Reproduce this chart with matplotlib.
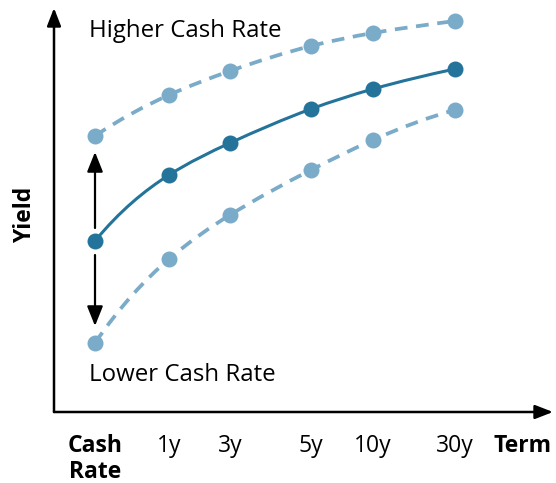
import numpy as np
import matplotlib
matplotlib.use("Agg")
from matplotlib import pyplot as plt
from matplotlib.path import Path
from matplotlib.patches import PathPatch, FancyArrowPatch

plt.rcParams['font.family'] = ['Open Sans', 'DejaVu Sans']

terms = ["Cash\nRate", "1y", "3y", "5y", "10y", "30y"]
term_x = [0.41, 1.15, 1.76, 2.57, 3.19, 4.01]
yield_now = [1.71, 2.37, 2.69, 3.03, 3.23, 3.43]
yield_higher = [2.76, 3.17, 3.41, 3.66, 3.79, 3.91]
yield_lower = [0.69, 1.53, 1.97, 2.42, 2.72, 3.02]

dark = "#23739b"
light = "#7aabc8"


def spline_slopes(x, y):
    # not-a-knot cubic spline, solved for the slope at each knot
    x = np.asarray(x, float)
    y = np.asarray(y, float)
    n = len(x)
    h = np.diff(x)
    s = np.diff(y) / h
    A = np.zeros((n, n))
    b = np.zeros(n)
    d = x[2] - x[0]
    A[0, 0], A[0, 1] = h[1], d
    b[0] = ((h[0] + 2 * d) * h[1] * s[0] + h[0] ** 2 * s[1]) / d
    for i in range(1, n - 1):
        A[i, i - 1] = h[i]
        A[i, i] = 2 * (h[i - 1] + h[i])
        A[i, i + 1] = h[i - 1]
        b[i] = 3 * (h[i] * s[i - 1] + h[i - 1] * s[i])
    d = x[-1] - x[-3]
    A[-1, -1], A[-1, -2] = h[-2], d
    b[-1] = (h[-1] ** 2 * s[-2] + (2 * d + h[-1]) * h[-2] * s[-1]) / d
    return np.linalg.solve(A, b)


def smooth_path(xs, ys):
    # each spline piece written as one cubic bezier segment
    m = spline_slopes(xs, ys)
    verts = [(xs[0], ys[0])]
    codes = [Path.MOVETO]
    for i in range(len(xs) - 1):
        h = xs[i + 1] - xs[i]
        verts += [(xs[i] + h / 3, ys[i] + h * m[i] / 3),
                  (xs[i + 1] - h / 3, ys[i + 1] - h * m[i + 1] / 3),
                  (xs[i + 1], ys[i + 1])]
        codes += [Path.CURVE4] * 3
    return Path(verts, codes)


fig = plt.figure(figsize=(5.56, 4.83), dpi=100)
ax = fig.add_axes([54 / 556, 71 / 483, 499 / 556, 404 / 483])
ax.set_xlim(0, 4.99)
ax.set_ylim(0, 4.04)
ax.axis("off")

for ys, color, ls, lw in [(yield_higher, light, (0, (3.4, 2.3)), 2.7),
                          (yield_lower, light, (0, (3.4, 2.3)), 2.7),
                          (yield_now, dark, "-", 2.2)]:
    ax.add_patch(PathPatch(smooth_path(term_x, ys), fill=False, edgecolor=color,
                           linewidth=lw, linestyle=ls, capstyle="butt", zorder=2))
    ax.plot(term_x, ys, "o", color=color, markersize=11.5, markeredgewidth=0, zorder=3)

# axes drawn as arrows
arrow_kw = dict(arrowstyle="-|>,head_length=0.9,head_width=0.35", color="black",
                lw=1.8, mutation_scale=12, clip_on=False, zorder=4,
                shrinkA=0, shrinkB=0)
ax.add_patch(FancyArrowPatch((0, 0), (0, 4.04), **arrow_kw))
ax.add_patch(FancyArrowPatch((0, 0), (4.99, 0), **arrow_kw))

# shift of the cash rate up and down
shift_kw = dict(arrowstyle="-|>,head_length=1.0,head_width=0.4", color="black",
                lw=1.6, mutation_scale=12, zorder=4, shrinkA=0, shrinkB=0)
ax.add_patch(FancyArrowPatch((term_x[0], yield_now[0] + 0.13),
                             (term_x[0], yield_higher[0] - 0.16), **shift_kw))
ax.add_patch(FancyArrowPatch((term_x[0], yield_now[0] - 0.14),
                             (term_x[0], yield_lower[0] + 0.17), **shift_kw))

ax.text(0.35, 3.81, "Higher Cash Rate", fontsize=17.3, ha="left", va="center")
ax.text(0.35, 0.37, "Lower Cash Rate", fontsize=17.3, ha="left", va="center")

for x, lab in zip(term_x, terms):
    bold = "\n" in lab
    ax.text(x, -0.22, lab, fontsize=16.5, ha="center", va="top",
            fontweight="bold" if bold else "normal", linespacing=1.1)
ax.text(4.69, -0.22, "Term", fontsize=16.5, ha="center", va="top", fontweight="bold")
ax.text(-0.29, 1.97, "Yield", fontsize=16.5, ha="center", va="center",
        rotation=90, fontweight="bold")

fig.savefig("out.png", dpi=100)
